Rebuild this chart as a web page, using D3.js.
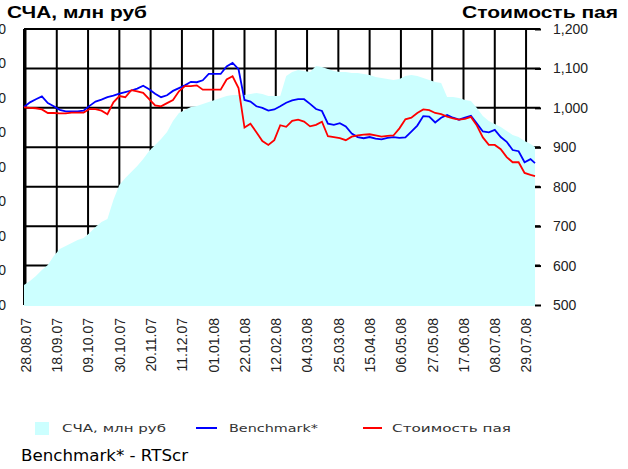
<!DOCTYPE html>
<html>
<head>
<meta charset="utf-8">
<script src="https://cdn.jsdelivr.net/npm/d3@7"></script>
<style>
  body { margin: 0; background: #fff; }
  svg { display: block; }
</style>
</head>
<body>
<script>
// Series start date, one value every 4 days
const startDate = new Date(2007, 7, 27);
const stepDays = 4;

// СЧА, млн руб (left axis)
const nav = [116,139,168,203,232,284,325,342,359,377,
  388,417,452,481,499,609,696,736,771,806,
  846,893,928,962,1003,1067,1113,1130,1148,1154,
  1165,1177,1188,1200,1212,1217,1217,1217,1223,1229,
  1223,1212,1212,1212,1328,1351,1362,1357,1351,1386,
  1380,1368,1357,1351,1351,1345,1345,1339,1333,1322,
  1316,1310,1304,1310,1328,1333,1328,1316,1304,1293,
  1287,1206,1206,1200,1188,1183,1142,1096,1067,1049,
  1032,1009,986,974,951,933,916];

// Benchmark* (right axis)
const benchmark = [1002,1014,1022,1029,1012,1004,995,991,991,991,
  993,1005,1016,1021,1027,1031,1036,1040,1044,1049,
  1056,1047,1036,1027,1032,1043,1050,1057,1066,1065,
  1070,1086,1086,1086,1105,1114,1098,1020,1016,1004,
  1000,993,996,1004,1013,1019,1022,1022,1010,997,
  992,960,957,961,953,935,926,923,926,922,
  920,924,926,924,925,940,955,979,978,963,
  975,982,975,970,975,980,960,940,938,944,
  926,914,893,890,862,870,860];

// Стоимость пая (right axis)
const unitPrice = [1001,1000,999,996,987,987,986,986,988,988,
  988,997,997,993,984,1014,1030,1027,1045,1042,
  1038,1022,1006,1004,1012,1020,1042,1055,1055,1057,
  1046,1046,1046,1046,1072,1080,1050,950,960,938,
  916,906,918,956,952,967,970,965,953,957,
  965,928,926,923,918,927,930,932,933,930,
  927,929,930,948,971,975,987,996,994,987,
  984,978,973,970,972,977,955,925,906,906,
  895,875,862,862,835,830,827];

// Axis ticks
const dateLabels = ["28.08.07","18.09.07","09.10.07","30.10.07","20.11.07","11.12.07",
  "01.01.08","22.01.08","12.02.08","04.03.08","25.03.08","15.04.08","06.05.08",
  "27.05.08","17.06.08","08.07.08","29.07.08"];
const leftTicks = [0,200,400,600,800,1000,1200,1400,1600];
const rightTicks = [500,600,700,800,900,1000,1100,1200];

const parseDate = d3.timeParse("%d.%m.%y");
const data = nav.map((v, i) => ({
  date: d3.timeDay.offset(startDate, i * stepDays),
  nav: v,
  bench: benchmark[i],
  price: unitPrice[i]
}));

const width = 628, height = 469;
const plot = {left: 24, right: 535, top: 29, bottom: 305};

const svg = d3.select("body").append("svg")
  .attr("width", width)
  .attr("height", height)
  .style("font-family", "'DejaVu Sans', Verdana, sans-serif");

// Scales
const x = d3.scaleTime()
  .domain([startDate, new Date(2008, 7, 4)])
  .range([plot.left, plot.right]);

const yLeft = d3.scaleLinear()
  .domain([0, 1600])
  .range([plot.bottom, plot.top]);

const yRight = d3.scaleLinear()
  .domain([500, 1200])
  .range([plot.bottom, plot.top]);

const tickDates = dateLabels.map(parseDate);

// Grid (drawn first, the area covers it)
const grid = svg.append("g").attr("stroke", "#000").attr("stroke-width", 2);
grid.selectAll(".h")
  .data(rightTicks.filter(d => d > 500))
  .join("line")
  .attr("x1", plot.left).attr("x2", plot.right + 5)
  .attr("y1", d => yRight(d)).attr("y2", d => yRight(d));
grid.selectAll(".v")
  .data(tickDates)
  .join("line")
  .attr("x1", d => x(d)).attr("x2", d => x(d))
  .attr("y1", plot.top).attr("y2", plot.bottom);
grid.append("line")
  .attr("x1", plot.left).attr("x2", plot.left)
  .attr("y1", plot.top).attr("y2", plot.bottom);

// СЧА area
svg.append("path")
  .datum(data)
  .attr("fill", "#ccffff")
  .attr("d", d3.area()
    .x(d => Math.min(x(d.date), plot.right))
    .y0(plot.bottom + 1)
    .y1(d => yLeft(d.nav)));

// Lines
const line = key => d3.line()
  .x(d => Math.min(x(d.date), plot.right))
  .y(d => yRight(d[key]));

svg.append("path")
  .datum(data)
  .attr("fill", "none")
  .attr("stroke", "#0000ff")
  .attr("stroke-width", 1.8)
  .attr("d", line("bench"));

svg.append("path")
  .datum(data)
  .attr("fill", "none")
  .attr("stroke", "#ff0000")
  .attr("stroke-width", 1.8)
  .attr("d", line("price"));

// Left axis (labels mostly cut off by the page edge)
const leftAxis = svg.append("g")
  .attr("transform", `translate(${plot.left},0)`)
  .call(d3.axisLeft(yLeft).tickValues(leftTicks).tickSize(0).tickPadding(18)
    .tickFormat(d3.format(",")));
leftAxis.select(".domain").remove();
leftAxis.selectAll("text").style("font-size", "14px").attr("fill", "#222");

// Right axis
const rightAxis = svg.append("g")
  .attr("transform", `translate(${plot.right},0)`)
  .call(d3.axisRight(yRight).tickValues(rightTicks).tickSize(6).tickPadding(12)
    .tickFormat(d3.format(",")));
rightAxis.select(".domain").remove();
rightAxis.selectAll("line").attr("stroke", "#000").attr("stroke-width", 2);
rightAxis.selectAll("text").style("font-size", "14px").attr("fill", "#222");

// X axis with rotated dates
const xAxis = svg.append("g")
  .attr("transform", `translate(0,${plot.bottom})`)
  .call(d3.axisBottom(x).tickValues(tickDates).tickSize(0)
    .tickFormat(d3.timeFormat("%d.%m.%y")));
xAxis.select(".domain").remove();
xAxis.selectAll("text")
  .attr("transform", "rotate(-90)")
  .attr("x", -13)
  .attr("y", 0)
  .attr("dy", "0.35em")
  .style("text-anchor", "end")
  .style("font-size", "14px")
  .attr("fill", "#222");

// Titles
svg.append("text")
  .attr("x", 7).attr("y", 18)
  .style("font-family", "'Liberation Sans', Arial, sans-serif")
  .style("font-weight", "bold").style("font-size", "17px")
  .attr("textLength", 140).attr("lengthAdjust", "spacingAndGlyphs")
  .text("СЧА, млн руб");

svg.append("text")
  .attr("x", 462).attr("y", 18)
  .style("font-family", "'Liberation Sans', Arial, sans-serif")
  .style("font-weight", "bold").style("font-size", "17px")
  .attr("textLength", 156).attr("lengthAdjust", "spacingAndGlyphs")
  .text("Стоимость пая");

// Legend
const legend = svg.append("g").style("font-size", "11px").attr("fill", "#333");
legend.append("rect")
  .attr("x", 35).attr("y", 422).attr("width", 14).attr("height", 13)
  .attr("fill", "#ccffff");
legend.append("text").attr("x", 62).attr("y", 432)
  .attr("textLength", 104).attr("lengthAdjust", "spacingAndGlyphs")
  .text("СЧА, млн руб");
legend.append("line")
  .attr("x1", 196).attr("x2", 217).attr("y1", 428).attr("y2", 428)
  .attr("stroke", "#0000ff").attr("stroke-width", 2);
legend.append("text").attr("x", 229).attr("y", 432)
  .attr("textLength", 89).attr("lengthAdjust", "spacingAndGlyphs")
  .text("Benchmark*");
legend.append("line")
  .attr("x1", 363).attr("x2", 382).attr("y1", 428).attr("y2", 428)
  .attr("stroke", "#ff0000").attr("stroke-width", 2);
legend.append("text").attr("x", 392).attr("y", 432)
  .attr("textLength", 119).attr("lengthAdjust", "spacingAndGlyphs")
  .text("Стоимость пая");

// Footnote
svg.append("text")
  .attr("x", 21).attr("y", 461)
  .style("font-size", "15px")
  .attr("textLength", 167).attr("lengthAdjust", "spacingAndGlyphs")
  .text("Benchmark* - RTScr");
</script>
</body>
</html>
